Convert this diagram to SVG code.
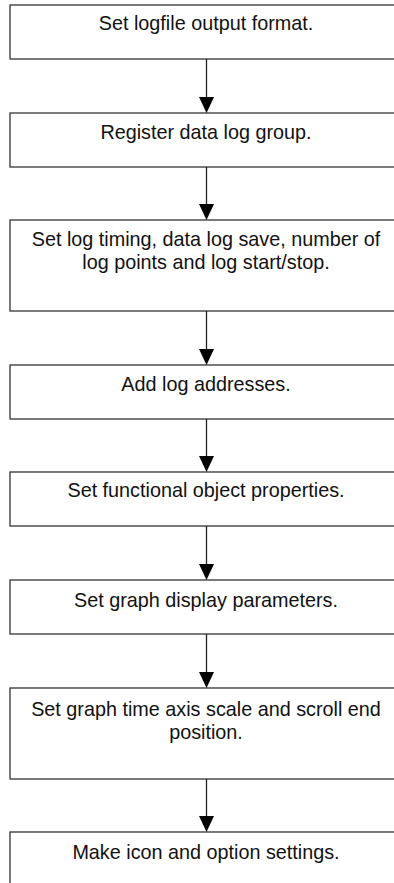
<svg xmlns="http://www.w3.org/2000/svg" width="394" height="883" viewBox="0 0 394 883">
<defs>
<style>
.box{fill:#fff;stroke:#333;stroke-width:1.3}
.t{font-family:"Liberation Sans",Arial,sans-serif;font-size:19.8px;fill:#111;text-anchor:middle}
.c{stroke:#222;stroke-width:1.3;fill:none}
.h{fill:#000}
</style>
</defs>
<rect width="394" height="883" fill="#fff"/>
<g id="n1"><rect class="box" x="10" y="5" width="400" height="54"/><text class="t" x="206" y="30">Set logfile output format.</text></g>
<g id="n2"><rect class="box" x="10" y="113" width="400" height="54"/><text class="t" x="206" y="139">Register data log group.</text></g>
<g id="n3"><rect class="box" x="10" y="220" width="400" height="91"/><text class="t" x="206" y="246">Set log timing, data log save, number of</text><text class="t" x="206" y="269">log points and log start/stop.</text></g>
<g id="n4"><rect class="box" x="10" y="365" width="400" height="54"/><text class="t" x="206" y="391">Add log addresses.</text></g>
<g id="n5"><rect class="box" x="10" y="472" width="400" height="54"/><text class="t" x="206" y="497">Set functional object properties.</text></g>
<g id="n6"><rect class="box" x="10" y="580" width="400" height="54"/><text class="t" x="206" y="607">Set graph display parameters.</text></g>
<g id="n7"><rect class="box" x="10" y="688" width="400" height="91"/><text class="t" x="206" y="716">Set graph time axis scale and scroll end</text><text class="t" x="206" y="739">position.</text></g>
<g id="n8"><rect class="box" x="10" y="832" width="400" height="70"/><text class="t" x="206" y="859">Make icon and option settings.</text></g>
<g id="connectors">
<line class="c" x1="206.5" y1="59" x2="206.5" y2="100"/><polygon class="h" points="199,97 214,97 206.5,113"/>
<line class="c" x1="206.5" y1="167" x2="206.5" y2="207"/><polygon class="h" points="199,204 214,204 206.5,220"/>
<line class="c" x1="206.5" y1="311" x2="206.5" y2="352"/><polygon class="h" points="199,349 214,349 206.5,365"/>
<line class="c" x1="206.5" y1="419" x2="206.5" y2="459"/><polygon class="h" points="199,456 214,456 206.5,472"/>
<line class="c" x1="206.5" y1="526" x2="206.5" y2="567"/><polygon class="h" points="199,564 214,564 206.5,580"/>
<line class="c" x1="206.5" y1="634" x2="206.5" y2="675"/><polygon class="h" points="199,672 214,672 206.5,688"/>
<line class="c" x1="206.5" y1="779" x2="206.5" y2="819"/><polygon class="h" points="199,816 214,816 206.5,832"/>
</g>
</svg>
